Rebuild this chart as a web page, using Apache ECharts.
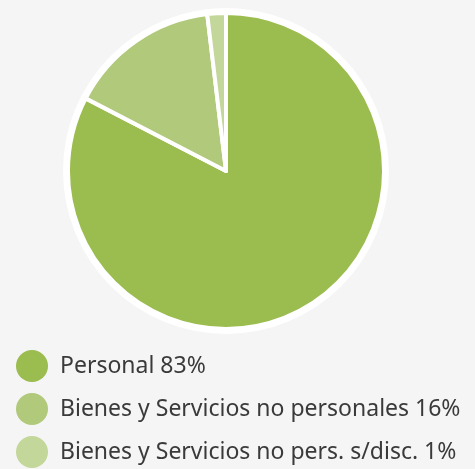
<!DOCTYPE html>
<html>
<head>
<meta charset="utf-8">
<script src="https://cdn.jsdelivr.net/npm/echarts@6/dist/echarts.min.js"></script>
<style>
  html, body { margin: 0; padding: 0; background: #f5f5f5; }
  #chart { width: 475px; height: 469px; }
</style>
</head>
<body>
<div id="chart"></div>
<script>
const labels = ["Personal 83%", "Bienes y Servicios no personales 16%", "Bienes y Servicios no pers. s/disc. 1%"];
const values = [82.6, 15.5, 1.9];
const colors = ["#9bbc4e", "#b0c97a", "#c4d79a"];

const chart = echarts.init(document.getElementById("chart"));
const option = {
  backgroundColor: "#f5f5f5",
  color: colors,
  legend: {
    orient: "vertical",
    left: 16,
    top: 350,
    padding: 0,
    icon: "circle",
    itemWidth: 32,
    itemHeight: 32,
    itemGap: 11,
    selectedMode: false,
    data: labels,
    itemStyle: { borderWidth: 0 },
    textStyle: {
      fontFamily: "Noto Sans",
      fontSize: 23,
      color: "#3a3a3a",
      padding: [0, 0, 0, 7]
    }
  },
  series: [
    {
      type: "pie",
      silent: true,
      center: [226, 171],
      radius: [0, 163],
      label: { show: false },
      itemStyle: { color: "#ffffff" },
      data: [{ value: 1, name: "" }],
      z: 1
    },
    {
      type: "pie",
      center: [226, 171],
      radius: [0, 158],
      startAngle: 90,
      clockwise: true,
      label: { show: false },
      labelLine: { show: false },
      itemStyle: { borderColor: "#ffffff", borderWidth: 4 },
      data: labels.map((n, i) => ({ name: n, value: values[i] })),
      z: 2
    }
  ]
};
chart.setOption(option);
</script>
</body>
</html>
